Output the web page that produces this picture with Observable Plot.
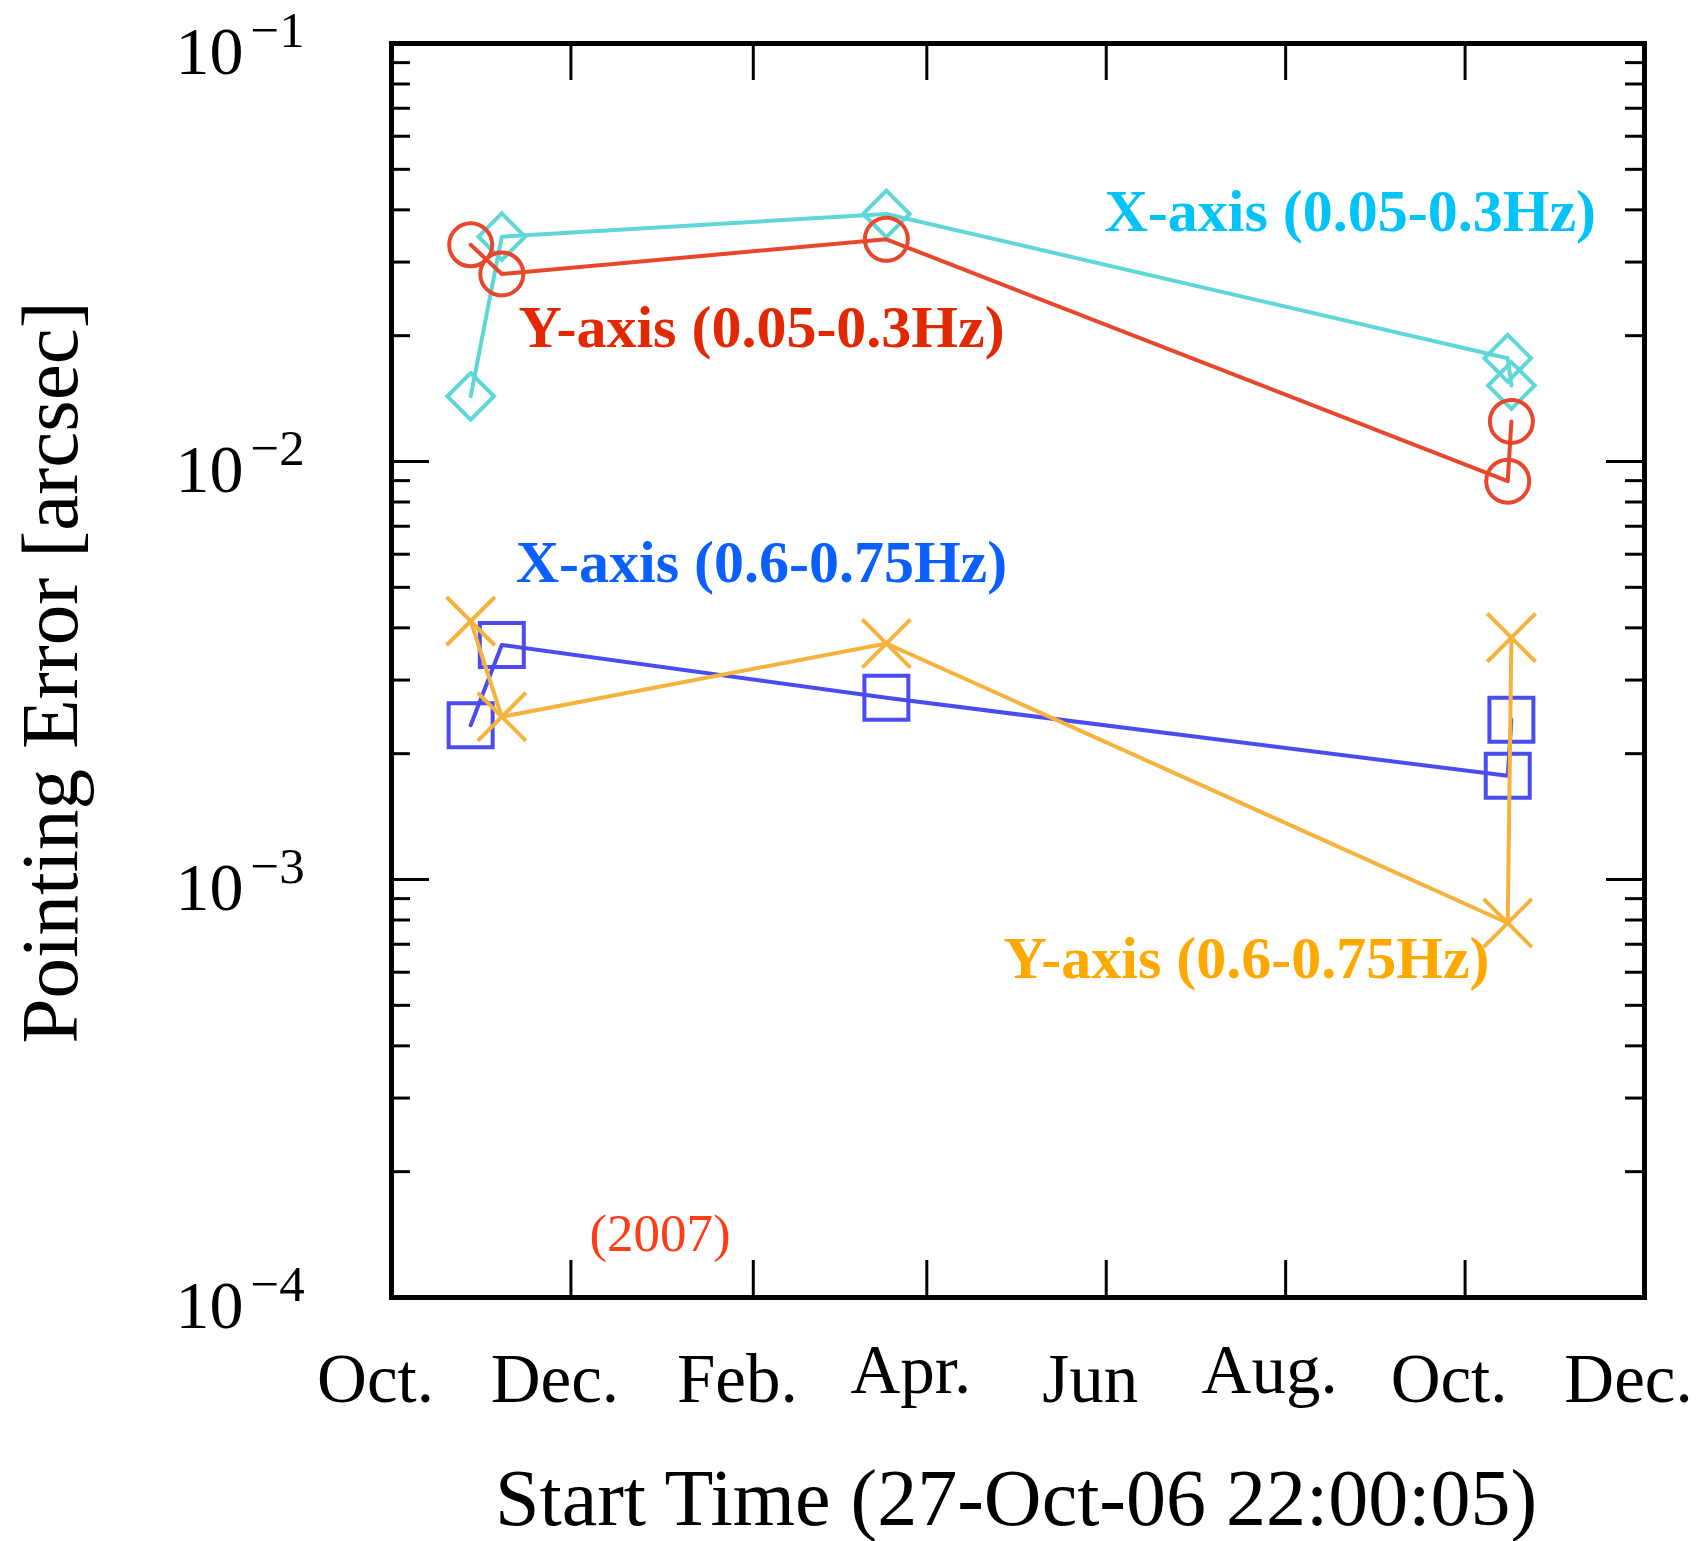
<!DOCTYPE html>
<html>
<head>
<meta charset="utf-8">
<script src="https://cdn.jsdelivr.net/npm/d3@7"></script>
<script src="https://cdn.jsdelivr.net/npm/@observablehq/plot@0.6"></script>
<style>
  html, body { margin: 0; padding: 0; background: #ffffff; }
</style>
</head>
<body>
<div id="chart"></div>
<script>
// ---------- data ----------
const obsDates = ["2006-10-27T22:00:05Z", "2006-11-07T12:00:00Z", "2007-03-18T06:00:00Z", "2007-10-15T12:00:00Z", "2007-10-16T18:00:00Z"];
const seriesNames = ["X-axis (0.05-0.3Hz)", "Y-axis (0.05-0.3Hz)", "X-axis (0.6-0.75Hz)", "Y-axis (0.6-0.75Hz)"];
const xAxisLow  = [0.01432, 0.0345, 0.0391, 0.01766, 0.0152];
const yAxisLow  = [0.0330, 0.0281, 0.0340, 0.00897, 0.01247];
const xAxisHigh = [0.00234, 0.00364, 0.00272, 0.00177, 0.00241];
const yAxisHigh = [0.00415, 0.00245, 0.00367, 0.000787, 0.00379];

const monthTicks  = ["2006-10-01", "2006-12-01", "2007-02-01", "2007-04-01", "2007-06-01", "2007-08-01", "2007-10-01", "2007-12-01"];
const monthLabels = ["Oct.", "Dec.", "Feb.", "Apr.", "Jun", "Aug.", "Oct.", "Dec."];
const decades   = [1e-4, 1e-3, 1e-2, 1e-1];
const exponents = ["\u22124", "\u22123", "\u22122", "\u22121"];

// annotation anchors (data units)
const noteTexts  = ["X-axis (0.05-0.3Hz)", "Y-axis (0.05-0.3Hz)", "X-axis (0.6-0.75Hz)", "Y-axis (0.6-0.75Hz)", "(2007)"];
const noteDates  = ["2007-05-31T10:00:00Z", "2006-11-13T05:00:00Z", "2006-11-12T05:00:00Z", "2007-04-27T02:00:00Z", "2006-12-07T07:00:00Z"];
const noteValues = [0.03556, 0.01878, 0.005142, 0.0005798, 0.0001295];

// ---------- styling ----------
const lineColors = ["#5fd6d8", "#e8472e", "#4b4cef", "#f5b33e"];
const noteColors = ["#00c3f7", "#e22800", "#0a5fff", "#ffa800", "#ff3c14"];
const symbols = ["diamond2", "circle", "square2", "times"];
const symbolR = [21, 21.5, 28, 22];
const serif = "'Liberation Serif', 'Times New Roman', serif";

const W = 1700, H = 1541, mL = 391, mR = 56, mT = 43, mB = 244;
const fw = W - mL - mR, fh = H - mT - mB;

const seriesValues = [xAxisLow, yAxisLow, xAxisHigh, yAxisHigh];
const rows = seriesNames.map((name, s) =>
  obsDates.map((d, i) => ({series: name, date: new Date(d), value: seriesValues[s][i]})));

const minor = decades.slice(0, 3).flatMap(d => d3.range(2, 10).map(k => k * d));
const xTickDates = monthTicks.slice(1, -1).map(d => new Date(d + "T00:00:00Z"));
const labelRows = monthTicks.map((d, i) => ({date: new Date(d + "T00:00:00Z"), label: monthLabels[i]}));
const descender = r => /[gpqy]/.test(r.label);

const marks = [];
// ticks (inward)
marks.push(Plot.tickY(decades, {y: d => d, insetRight: fw - 38, stroke: "black", strokeWidth: 3}));
marks.push(Plot.tickY(minor, {y: d => d, insetRight: fw - 19, stroke: "black", strokeWidth: 3}));
marks.push(Plot.tickY(decades, {y: d => d, insetLeft: fw - 38, stroke: "black", strokeWidth: 3}));
marks.push(Plot.tickY(minor, {y: d => d, insetLeft: fw - 19, stroke: "black", strokeWidth: 3}));
marks.push(Plot.tickX(xTickDates, {x: d => d, insetTop: fh - 37, stroke: "black", strokeWidth: 3}));
marks.push(Plot.tickX(xTickDates, {x: d => d, insetBottom: fh - 37, stroke: "black", strokeWidth: 3}));

// series
rows.forEach((data, s) => {
  marks.push(Plot.line(data, {x: "date", y: "value", stroke: lineColors[s], strokeWidth: 4}));
  marks.push(Plot.dot(data, {x: "date", y: "value", symbol: symbols[s], r: symbolR[s], stroke: lineColors[s], strokeWidth: 4, fill: "none"}));
});

marks.push(Plot.frame({stroke: "black", strokeWidth: 5}));

// x tick labels
marks.push(Plot.text(labelRows.filter(r => !descender(r)), {x: "date", text: "label", frameAnchor: "bottom", lineAnchor: "bottom", dy: 104, dx: -16, fontSize: 69, fontFamily: serif, fill: "black"}));
marks.push(Plot.text(labelRows.filter(descender), {x: "date", text: "label", frameAnchor: "bottom", lineAnchor: "bottom", dy: 95, dx: -16, fontSize: 69, fontFamily: serif, fill: "black"}));

// y tick labels 10^n
marks.push(Plot.text(decades, {y: d => d, text: () => "10", frameAnchor: "left", textAnchor: "end", lineAnchor: "middle", dx: -148, dy: 9, fontSize: 68, fontFamily: serif, fill: "black"}));
marks.push(Plot.text(decades, {y: d => d, text: (d, i) => exponents[i], frameAnchor: "left", textAnchor: "start", lineAnchor: "middle", dx: -141, dy: -13, fontSize: 51, fontFamily: serif, fill: "black"}));

// axis titles
marks.push(Plot.text(["Start Time (27-Oct-06 22:00:05)"], {frameAnchor: "bottom", textAnchor: "middle", lineAnchor: "bottom", dy: 227, dx: -2, fontSize: 80, fontFamily: serif, fill: "black"}));
marks.push(Plot.text(["Pointing Error [arcsec]"], {frameAnchor: "left", textAnchor: "middle", rotate: -90, lineAnchor: "bottom", dx: -315, dy: 2, fontSize: 81, fontFamily: serif, fill: "black"}));

// annotations
noteTexts.forEach((t, i) => {
  const last = i === noteTexts.length - 1;
  marks.push(Plot.text([t], {
    x: () => new Date(noteDates[i]), y: () => noteValues[i], text: d => d,
    textAnchor: "start", lineAnchor: "bottom",
    fontSize: last ? 53 : 60, fontWeight: last ? "normal" : "bold",
    fontFamily: serif, fill: noteColors[i]
  }));
});

const chart = Plot.plot({
  width: W, height: H,
  marginLeft: mL, marginRight: mR, marginTop: mT, marginBottom: mB,
  style: {background: "white", fontFamily: serif, overflow: "visible"},
  x: {type: "utc", domain: [new Date("2006-10-01T00:00:00Z"), new Date("2007-12-01T00:00:00Z")], axis: null},
  y: {type: "log", domain: [1e-4, 1e-1], axis: null},
  marks
});
document.getElementById("chart").appendChild(chart);
</script>
</body>
</html>
